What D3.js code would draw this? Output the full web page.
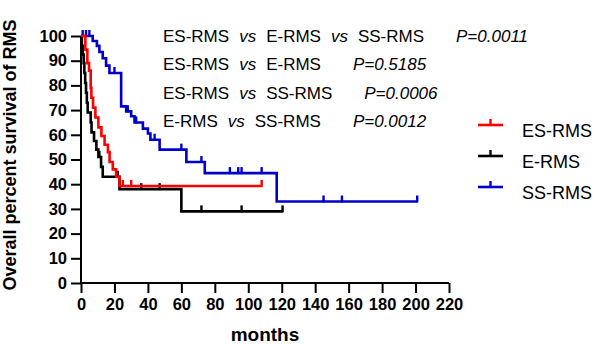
<!DOCTYPE html>
<html>
<head>
<meta charset="utf-8">
<script src="https://cdn.jsdelivr.net/npm/d3@7"></script>
<style>
  body { margin: 0; background: #fff; }
  svg { font-family: "Liberation Sans", Arial, sans-serif; }
</style>
</head>
<body>
<script>
// Kaplan-Meier steps: [month, percent surviving]
let esSteps = [[0,100],[2.6,94.5],[3.8,89],[4.8,86],[5.8,79],[6.2,75],[7.2,71],[8.6,67],[10.4,63],[12.2,59.5],[14.1,56],[16.1,53],[17.1,49],[19,46],[21,43],[23,39.3]];
let esEnd = 108;
let esCensor = [25, 30, 108];

let eSteps = [[0,100],[0.5,96],[1,92.5],[1.6,89],[2,85],[2.5,81],[3,77],[3.5,73],[4,69],[5.8,65],[6.3,61],[7.8,57.5],[9.2,54],[10.4,51],[12,47],[13,43],[23,38],[60,29]];
let eEnd = 120.5;
let eCensor = [11, 22, 36, 47, 72, 96, 120.5];

let ssSteps = [[0,100],[7,98],[9.5,96],[11,93.5],[13,91],[15,88],[17,85],[24,71.5],[27,69.5],[30,67.5],[32,65],[37,62.5],[40,60.5],[41.5,58],[47,54],[63,49],[74,44.5],[117,33]];
let ssEnd = 201;
let ssCensor = [1, 3, 5, 20, 28, 33, 44, 60, 72, 89, 94, 96, 108, 145, 156, 201];

let seriesNames = ["ES-RMS", "E-RMS", "SS-RMS"];
let seriesColors = ["#ff0000", "#000000", "#0000cc"];

let xTicks = [0,20,40,60,80,100,120,140,160,180,200,220];
let yTicks = [0,10,20,30,40,50,60,70,80,90,100];

let pRows = [
  {parts: ["ES-RMS", "vs", "E-RMS", "vs", "SS-RMS"], p: "P=0.0011"},
  {parts: ["ES-RMS", "vs", "E-RMS"], p: "P=0.5185"},
  {parts: ["ES-RMS", "vs", "SS-RMS"], p: "P=0.0006"},
  {parts: ["E-RMS", "vs", "SS-RMS"], p: "P=0.0012"}
];

let width = 598, height = 344;

let x = d3.scaleLinear().domain([0, 220]).range([81, 449]);
let y = d3.scaleLinear().domain([0, 100]).range([283, 36]);

const svg = d3.select("body").append("svg")
  .attr("width", width)
  .attr("height", height);

// axes
let xAxis = d3.axisBottom(x).tickValues(xTicks).tickSize(10).tickPadding(5).tickFormat(d3.format("d"));
let yAxis = d3.axisLeft(y).tickValues(yTicks).tickSize(10).tickPadding(4).tickFormat(d3.format("d"));

let gx = svg.append("g").attr("transform", `translate(0,${y(0)})`).call(xAxis);
let gy = svg.append("g").attr("transform", `translate(${x(0)},0)`).call(yAxis);

[gx, gy].forEach(g => {
  g.select(".domain").attr("stroke", "#000").attr("stroke-width", 2);
  g.selectAll(".tick line").attr("stroke", "#000").attr("stroke-width", 2);
  g.selectAll(".tick text")
    .attr("fill", "#000")
    .style("font-size", "16.5px")
    .style("font-weight", "bold");
});
gx.select(".domain").attr("d", `M${x(0)},0H${x(220)}`);
gy.select(".domain").attr("d", `M0,${y(0)}V${y(100)}`);

svg.append("text")
  .attr("x", (x(0) + x(220)) / 2)
  .attr("y", 341)
  .attr("text-anchor", "middle")
  .style("font-size", "19px")
  .style("font-weight", "bold")
  .text("months");

svg.append("text")
  .attr("transform", `translate(16,${155}) rotate(-90)`)
  .attr("text-anchor", "middle")
  .style("font-size", "18px")
  .style("font-weight", "bold")
  .text("Overall percent survival of RMS");

// survival curves
let line = d3.line().x(d => x(d[0])).y(d => y(d[1])).curve(d3.curveStepAfter);

function survAt(steps, t) {
  let s = steps[0][1];
  steps.forEach(d => { if (d[0] <= t) s = d[1]; });
  return s;
}

let curves = [
  {steps: ssSteps, end: ssEnd, censor: ssCensor, color: seriesColors[2]},
  {steps: eSteps, end: eEnd, censor: eCensor, color: seriesColors[1]},
  {steps: esSteps, end: esEnd, censor: esCensor, color: seriesColors[0]}
];

curves.forEach(c => {
  let pts = c.steps.concat([[c.end, c.steps[c.steps.length - 1][1]]]);
  svg.append("path")
    .attr("d", line(pts))
    .attr("fill", "none")
    .attr("stroke", c.color)
    .attr("stroke-width", 2.6);

  svg.selectAll(null)
    .data(c.censor)
    .enter()
    .append("line")
    .attr("x1", d => x(d))
    .attr("x2", d => x(d))
    .attr("y1", d => y(survAt(c.steps, d)) + 1)
    .attr("y2", d => y(survAt(c.steps, d)) - 6)
    .attr("stroke", c.color)
    .attr("stroke-width", 2.4);
});

// P-value annotations
let rows = svg.selectAll(".prow")
  .data(pRows)
  .enter()
  .append("text")
  .attr("class", "prow")
  .attr("x", 163)
  .attr("y", (d, i) => 42 + i * 28.3)
  .style("font-size", "17px")
  .attr("fill", "#000");

rows.each(function (d) {
  let t = d3.select(this);
  d.parts.forEach((p, j) => {
    t.append("tspan")
      .attr("dx", j === 0 ? 0 : 10)
      .style("font-style", p === "vs" ? "italic" : "normal")
      .text(p);
  });
  t.append("tspan")
    .attr("dx", 32)
    .style("font-style", "italic")
    .text(d.p);
});

// legend
let legend = svg.selectAll(".legend-items")
  .data(seriesNames)
  .enter()
  .append("g")
  .attr("class", "legend-items")
  .attr("transform", (d, i) => `translate(478,${125 + i * 31})`);

legend.append("line")
  .attr("x1", 0).attr("x2", 25)
  .attr("y1", 0).attr("y2", 0)
  .attr("stroke", (d, i) => seriesColors[i])
  .attr("stroke-width", 2.6);

legend.append("line")
  .attr("x1", 12.5).attr("x2", 12.5)
  .attr("y1", 0).attr("y2", -6)
  .attr("stroke", (d, i) => seriesColors[i])
  .attr("stroke-width", 2.4);

legend.append("text")
  .attr("x", 44)
  .attr("y", 12)
  .style("font-size", "18px")
  .attr("fill", "#000")
  .text(d => d);
</script>
</body>
</html>
